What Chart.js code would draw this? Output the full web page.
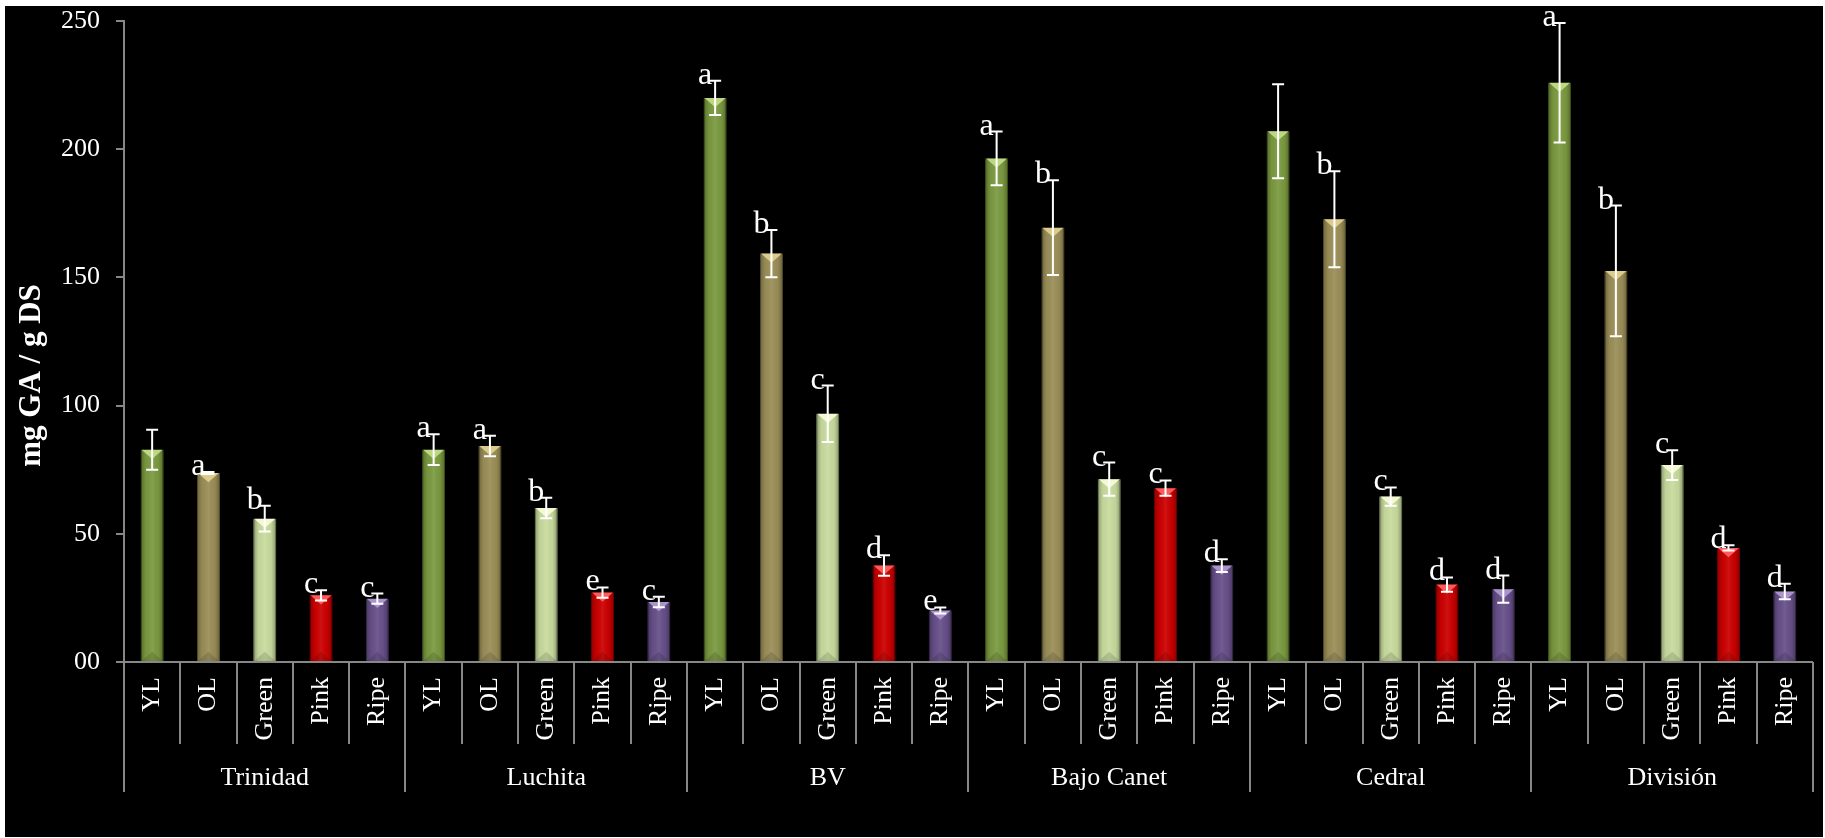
<!DOCTYPE html>
<html>
<head>
<meta charset="utf-8">
<script src="https://cdn.jsdelivr.net/npm/chart.js@4"></script>
<style>
  html, body { margin: 0; padding: 0; background: #fff; }
  #wrap { position: absolute; left: 5px; top: 6px; width: 1818px; height: 831px; background: #000; }
</style>
</head>
<body>
<div id="wrap"><canvas id="phenolChart"></canvas></div>
<script>
const locations = ['Trinidad', 'Luchita', 'BV', 'Bajo Canet', 'Cedral', 'División'];
const stages = ['YL', 'OL', 'Green', 'Pink', 'Ripe'];

// mean mg GA / g DS per stage (YL, OL, Green, Pink, Ripe)
const trinidad  = [82.8, 73.7, 55.9, 26.0, 24.7];
const luchita   = [82.8, 84.2, 60.1, 27.1, 23.4];
const bv        = [220.0, 159.3, 96.8, 37.6, 20.1];
const bajoCanet = [196.4, 169.4, 71.3, 67.8, 37.6];
const cedral    = [207.0, 172.7, 64.5, 30.2, 28.4];
const division  = [225.9, 152.5, 76.8, 44.5, 27.5];

// standard deviation
const trinidadErr  = [7.8, 0.4, 5.0, 2.0, 2.0];
const luchitaErr   = [6.0, 4.0, 4.0, 2.0, 2.0];
const bvErr        = [6.7, 9.2, 11.0, 4.0, 1.2];
const bajoCanetErr = [10.5, 18.5, 6.5, 3.0, 2.5];
const cedralErr    = [18.3, 18.7, 3.6, 2.8, 5.3];
const divisionErr  = [23.3, 25.5, 5.8, 1.0, 3.0];

// significance letters
const trinidadSig  = ['', 'a', 'b', 'c', 'c'];
const luchitaSig   = ['a', 'a', 'b', 'e', 'c'];
const bvSig        = ['a', 'b', 'c', 'd', 'e'];
const bajoCanetSig = ['a', 'b', 'c', 'c', 'd'];
const cedralSig    = ['', 'b', 'c', 'd', 'd'];
const divisionSig  = ['a', 'b', 'c', 'd', 'd'];

const yTicks = [0, 50, 100, 150, 200, 250];
const yTitle = 'mg GA / g DS';

const values = [].concat(trinidad, luchita, bv, bajoCanet, cedral, division);
const errors = [].concat(trinidadErr, luchitaErr, bvErr, bajoCanetErr, cedralErr, divisionErr);
const letters = [].concat(trinidadSig, luchitaSig, bvSig, bajoCanetSig, cedralSig, divisionSig);
const stageLabels = [];
locations.forEach(() => stages.forEach(s => stageLabels.push(s)));

const stageFill = ['#7b9a40', '#9b8f58', '#c9dc9e', '#cc0000', '#67508a'];
const stageEdge = ['#5a7528', '#776b3c', '#a2b27c', '#990000', '#4b3868'];
const stageTop  = ['#bcd882', '#dccb8a', '#f4f9d4', '#ff5a5a', '#ab93cb'];

const FONT = "'Times New Roman', 'Liberation Serif', serif";
const AXIS = '#878787';

const barExtras = {
    id: 'barExtras',
    afterDatasetsDraw(chart) {
        const ctx = chart.ctx;
        const yScale = chart.scales.y;
        const meta = chart.getDatasetMeta(0);
        ctx.save();
        meta.data.forEach((bar, i) => {
            const p = bar.getProps(['x', 'y', 'base', 'width'], true);
            const left = p.x - p.width / 2;
            const right = p.x + p.width / 2;
            const h = p.base - p.y;

            // rounded shading across the bar
            const g = ctx.createLinearGradient(left, 0, right, 0);
            g.addColorStop(0, 'rgba(0,0,0,0.30)');
            g.addColorStop(0.22, 'rgba(0,0,0,0.04)');
            g.addColorStop(0.5, 'rgba(255,255,255,0.07)');
            g.addColorStop(0.78, 'rgba(0,0,0,0.04)');
            g.addColorStop(1, 'rgba(0,0,0,0.32)');
            ctx.fillStyle = g;
            ctx.fillRect(left, p.y, p.width, h);

            // bevel at the top and base
            const tri = Math.min(p.width * 0.4, h / 2);
            ctx.fillStyle = stageTop[i % 5];
            ctx.beginPath();
            ctx.moveTo(left + 1, p.y);
            ctx.lineTo(right - 1, p.y);
            ctx.lineTo(p.x, p.y + tri);
            ctx.closePath();
            ctx.fill();

            ctx.fillStyle = 'rgba(0,0,0,0.13)';
            ctx.beginPath();
            ctx.moveTo(left + 1, p.base);
            ctx.lineTo(right - 1, p.base);
            ctx.lineTo(p.x, p.base - tri);
            ctx.closePath();
            ctx.fill();
        });

        // error bars
        ctx.strokeStyle = '#fff';
        ctx.lineWidth = 2;
        meta.data.forEach((bar, i) => {
            const x = bar.x;
            const yTop = yScale.getPixelForValue(values[i] + errors[i]);
            const yBot = yScale.getPixelForValue(values[i] - errors[i]);
            ctx.beginPath();
            ctx.moveTo(x, yTop); ctx.lineTo(x, yBot);
            ctx.moveTo(x - 6, yTop); ctx.lineTo(x + 6, yTop);
            ctx.moveTo(x - 6, yBot); ctx.lineTo(x + 6, yBot);
            ctx.stroke();
        });

        // letters
        ctx.fillStyle = '#fff';
        ctx.font = '32px ' + FONT;
        ctx.textAlign = 'center';
        ctx.textBaseline = 'alphabetic';
        meta.data.forEach((bar, i) => {
            if (!letters[i]) return;
            const yTop = yScale.getPixelForValue(values[i] + errors[i]);
            ctx.fillText(letters[i], bar.x - 10, yTop + 3);
        });
        ctx.restore();
    }
};

// divider lines under the axis (short per stage, long per location) and the y title
const axisDecor = {
    id: 'axisDecor',
    afterDraw(chart) {
        const xs = chart.scales.x;
        const xg = chart.scales.x2;
        const ys = chart.scales.y;
        const ctx = chart.ctx;
        const n = stageLabels.length;
        const step = (xs.right - xs.left) / n;
        ctx.save();
        ctx.strokeStyle = AXIS;
        ctx.lineWidth = 2;
        for (let i = 0; i <= n; i++) {
            const px = Math.round(xs.left + i * step);
            const bottom = i % stages.length === 0 ? xg.bottom : xs.bottom;
            ctx.beginPath();
            ctx.moveTo(px, xs.top);
            ctx.lineTo(px, bottom);
            ctx.stroke();
        }

        // title sits a bit below the middle of the axis
        ctx.translate(ys.left + 27, (ys.top + ys.bottom) / 2 + 34);
        ctx.rotate(-Math.PI / 2);
        ctx.fillStyle = '#fff';
        ctx.font = 'bold 31px ' + FONT;
        ctx.textAlign = 'center';
        ctx.textBaseline = 'middle';
        ctx.fillText(yTitle, 0, 0);
        ctx.restore();
    }
};

const ctx = document.getElementById('phenolChart').getContext('2d');
new Chart(ctx, {
    type: 'bar',
    data: {
        labels: stageLabels,
        datasets: [{
            data: values,
            backgroundColor: values.map((v, i) => stageFill[i % 5]),
            borderColor: values.map((v, i) => stageEdge[i % 5]),
            borderWidth: 1,
            barPercentage: 0.41,
            categoryPercentage: 1
        }]
    },
    options: {
        responsive: true,
        maintainAspectRatio: false,
        animation: false,
        layout: { padding: { top: 15, right: 1, bottom: 45, left: 0 } },
        plugins: {
            legend: { display: false },
            tooltip: { enabled: false }
        },
        scales: {
            x: {
                type: 'category',
                position: 'bottom',
                weight: 0,
                offset: true,
                grid: { display: false },
                border: { display: true, color: AXIS, width: 2 },
                ticks: {
                    color: '#fff',
                    font: { family: FONT, size: 26 },
                    autoSkip: false,
                    minRotation: 90,
                    maxRotation: 90,
                    padding: 7
                },
                afterFit: s => { s.height = 82; }
            },
            x2: {
                type: 'category',
                position: 'bottom',
                weight: 1,
                offset: true,
                labels: locations,
                grid: { display: false },
                border: { display: false },
                ticks: {
                    color: '#fff',
                    font: { family: FONT, size: 26 },
                    autoSkip: false,
                    maxRotation: 0,
                    padding: 11
                },
                afterFit: s => { s.height = 48; }
            },
            y: {
                min: yTicks[0],
                max: yTicks[yTicks.length - 1],
                afterBuildTicks: s => { s.ticks = yTicks.map(v => ({ value: v })); },
                grid: { drawOnChartArea: false, color: AXIS, lineWidth: 2, tickLength: 8 },
                border: { display: true, color: AXIS, width: 2 },
                ticks: {
                    color: '#fff',
                    font: { family: FONT, size: 26, lineHeight: 1 },
                    padding: 16,
                    callback: v => v === 0 ? '00' : v
                },
                afterFit: s => {
                    s.width = 119;
                    s.paddingTop = 8;
                    s.paddingBottom = 0;
                }
            }
        }
    },
    plugins: [barExtras, axisDecor]
});
</script>
</body>
</html>
